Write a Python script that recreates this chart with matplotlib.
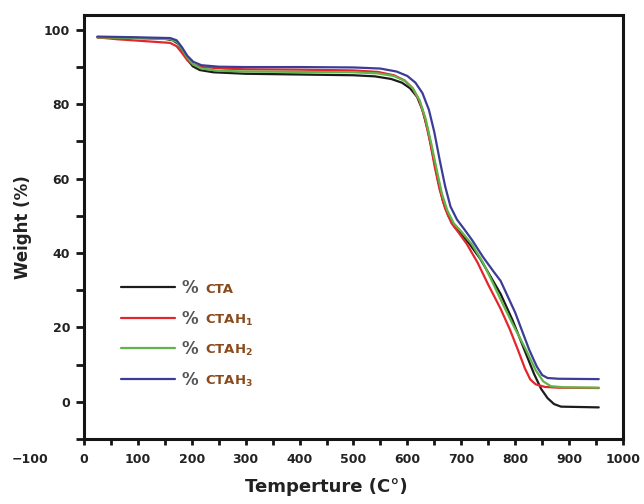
import numpy as np
import matplotlib
matplotlib.use("Agg")
import matplotlib.pyplot as plt

plt.rcParams['font.family'] = ['DejaVu Sans']
plt.rcParams['font.weight'] = 'bold'
plt.rcParams['mathtext.fontset'] = 'custom'
plt.rcParams['mathtext.rm'] = 'DejaVu Sans:bold'
plt.rcParams['mathtext.bf'] = 'DejaVu Sans:bold'
plt.rcParams['mathtext.default'] = 'rm'

# ---- data ----
t_cta = [25, 80, 150, 165, 175, 183, 192, 202, 215, 240, 300, 400, 500, 540, 570, 590, 605, 618, 628,
         638, 648, 657, 666, 676, 688, 700, 715, 735, 755, 773, 795, 817, 835, 848, 860, 872, 885, 920, 955]
w_cta = [98.0, 97.9, 97.6, 97.2, 96.2, 94.3, 92.0, 90.2, 89.2, 88.6, 88.2, 88.0, 87.8, 87.5, 86.8, 85.8, 84.3, 82, 78.5,
         73, 66, 59.5, 54, 50, 47, 45, 42.5, 38.5, 33.5, 29, 22, 14, 7.5, 3.5, 1, -0.6, -1.3, -1.4, -1.5]

t_h1 = [25, 60, 120, 160, 172, 182, 192, 203, 220, 260, 300, 400, 500, 545, 575, 595, 610, 622, 632,
        642, 651, 660, 670, 682, 695, 710, 730, 750, 773, 790, 805, 818, 828, 838, 855, 880, 955]
w_h1 = [98.0, 97.5, 96.9, 96.5, 95.6, 93.8, 91.8, 90.6, 90.0, 89.6, 89.4, 89.3, 89.1, 88.7, 87.8, 86.4, 84.3, 81, 76.5,
        70, 63, 57, 52, 48, 45.5, 42.5, 37.5, 31.5, 25, 19.5, 14, 9, 6, 4.7, 4.0, 3.8, 3.7]

t_h2 = [25, 100, 160, 172, 182, 192, 203, 218, 250, 300, 400, 500, 545, 575, 595, 610, 623, 634,
        645, 655, 664, 674, 686, 700, 720, 740, 760, 773, 795, 820, 838, 852, 866, 890, 955]
w_h2 = [98.0, 97.8, 97.5, 96.8, 94.8, 92.5, 90.7, 89.6, 89.0, 88.8, 88.7, 88.6, 88.3, 87.6, 86.3, 84.3, 81, 76,
        69, 62, 56, 51.5, 48, 45.8, 42.3, 37.5, 31.5, 27.5, 21, 14, 8.5, 5.5, 4.2, 3.9, 3.8]

t_h3 = [25, 100, 160, 172, 182, 192, 203, 218, 250, 300, 400, 500, 550, 580, 600, 615, 628, 640,
        650, 660, 670, 680, 692, 705, 720, 740, 760, 773, 800, 826, 840, 850, 860, 880, 955]
w_h3 = [98.2, 98.0, 97.8, 97.2, 95.3, 93.0, 91.4, 90.5, 90.1, 90.0, 90.0, 89.9, 89.6, 88.8, 87.6, 85.8, 83, 78.5,
        72.5, 65, 58, 52.5, 49, 46.5, 43.5, 39, 35, 32.5, 24, 14, 9.5, 7.2, 6.4, 6.2, 6.1]

series_names = ["CTA", "CTAH$_1$", "CTAH$_2$", "CTAH$_3$"]
series_colors = ["#1c1c1c", "#e3262c", "#5fb548", "#3c3c96"]

x_major = np.arange(-100, 1001, 100)
x_minor = np.arange(0, 1001, 50)
y_major = np.arange(0, 101, 20)
y_minor = np.arange(-10, 101, 10)

# ---- figure ----
fig = plt.figure(figsize=(6.44, 5.04), dpi=100)
ax = fig.add_axes([30 / 644, 65 / 504, 593 / 644, 424 / 504])

for t, w, c in zip([t_cta, t_h1, t_h2, t_h3], [w_cta, w_h1, w_h2, w_h3], series_colors):
    ax.plot(t, w, color=c, lw=1.6, solid_joinstyle='round', solid_capstyle='round')

ax.set_xlim(-100, 1000)
ax.set_ylim(-10, 104)

ax.spines['left'].set_position(('data', 0))
ax.spines['bottom'].set_bounds(0, 1000)
ax.spines['top'].set_bounds(0, 1000)
for s in ax.spines.values():
    s.set_linewidth(2.2)
    s.set_color('#151515')

ax.set_xticks(x_major)
ax.set_xticks(x_minor, minor=True)
ax.set_yticks(y_major)
ax.set_yticks(y_minor, minor=True)
ax.tick_params(axis='both', which='both', direction='out', width=2,
               labelsize=9, labelcolor='#222222', color='#151515')
ax.tick_params(axis='x', which='both', length=4, pad=6)
ax.tick_params(axis='y', which='both', length=6, pad=4)
# no tick mark for the -100 label (it lies outside the frame)
xt = ax.xaxis.get_major_ticks()
xt[0].tick1line.set_visible(False)

ax.set_xlabel("Temperture (C°)", fontsize=13, fontweight='bold', color='#222222', labelpad=9)
ax.set_ylabel("Weight (%)", fontsize=12, fontweight='bold', color='#222222')
ax.yaxis.set_label_coords(0.003, 0.5)

# legend: "%" in grey, sample name in brown
handles = ax.get_lines()
leg = ax.legend(handles, ["%"] * 4, loc='upper left', bbox_to_anchor=(0.14, 0.397),
                frameon=False, fontsize=12, handlelength=3.2, handletextpad=0.4,
                labelspacing=0.75, borderpad=0)
fig.canvas.draw()
for txt, name in zip(leg.get_texts(), series_names):
    txt.set_color('#555555')
    txt.set_fontweight('bold')
    ax.annotate(name, xy=(1, 0), xycoords=txt, xytext=(5, 2.6), textcoords='offset points',
                va='baseline', ha='left', fontsize=9.5, fontweight='bold', color='#8a4a1c',
                zorder=10)

fig.savefig("out.png", dpi=100, facecolor='white')
